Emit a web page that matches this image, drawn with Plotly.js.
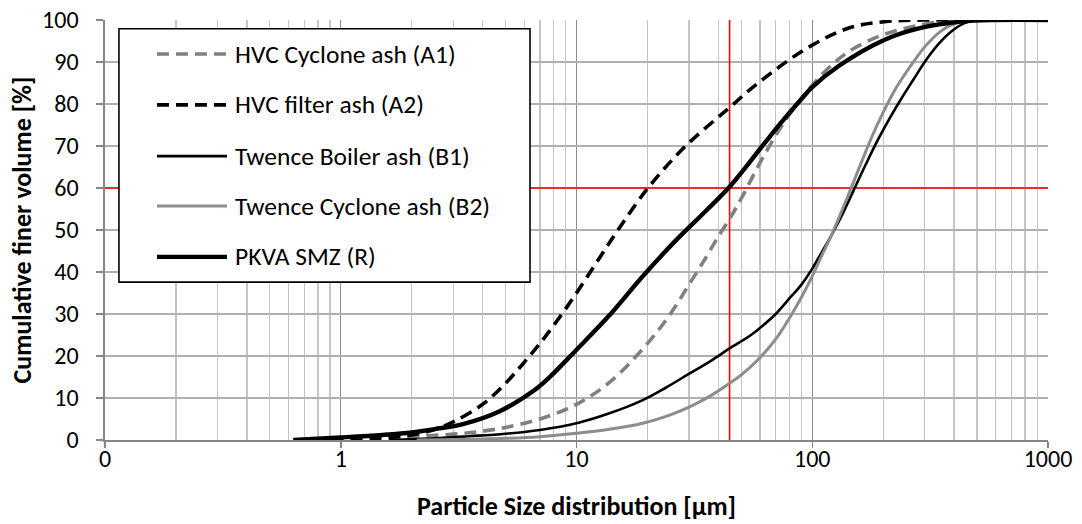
<!DOCTYPE html>
<html>
<head>
<meta charset="utf-8">
<script src="https://cdn.plot.ly/plotly-3.0.1.min.js"></script>
<style>
html,body{margin:0;padding:0;background:#ffffff;}
#chart{width:1082px;height:524px;}
</style>
</head>
<body>
<div id="chart"></div>
<script>
// ---- data ----
const seriesNames = [
  "HVC Cyclone ash (A1)",
  "HVC filter ash (A2)",
  "Twence Boiler ash (B1)",
  "Twence Cyclone ash (B2)",
  "PKVA SMZ (R)"
];

const a1Size  = [0.63, 1, 1.5, 2, 3, 4, 5, 7, 10, 14, 20, 25, 30, 35, 40, 45, 50, 60, 70, 80, 100, 125, 150, 200, 300, 430, 1000];
const a1Finer = [0, 0.2, 0.5, 0.8, 1.4, 2.1, 3.0, 5.0, 8.5, 14, 23, 30, 37, 43, 48.5, 53, 57.5, 66, 72.5, 77.5, 84.5, 90, 93.2, 96.5, 99, 100, 100];

const a2Size  = [0.63, 1, 1.5, 2, 2.5, 3, 4, 5, 6, 7, 8.3, 10, 12.4, 15.2, 20.3, 28.8, 43.4, 60.5, 97, 145, 203, 300, 1000];
const a2Finer = [0, 0.2, 0.5, 1.2, 2.5, 4.3, 8.5, 13.5, 18.5, 23, 28.5, 35, 43, 50.5, 60.3, 69.8, 78.6, 85.5, 93.6, 98.2, 99.6, 100, 100];

const b1Size  = [1.6, 2.5, 3.5, 5, 7, 10, 13.7, 19.1, 24, 29.7, 37, 44.6, 55, 62.5, 70, 80, 90, 100, 110, 120, 135, 150, 170, 190, 215, 240, 270, 300, 340, 390, 440, 500, 1000];
const b1Finer = [0, 0.4, 0.9, 1.5, 2.4, 4, 6.3, 9.5, 12.5, 15.6, 18.8, 21.8, 25, 27.5, 30, 33.7, 37, 40.8, 44.8, 48.5, 54, 59.5, 66, 71.5, 77, 81.5, 86, 90, 94, 97.3, 99.2, 100, 100];

const b2Size  = [2.1, 3, 5, 7, 10, 14, 19.1, 25, 29.7, 37, 44.6, 50, 60, 70, 80, 90, 100, 110, 120, 130, 145, 160, 180, 200, 225, 250, 275, 300, 350, 412, 480, 1000];
const b2Finer = [0, 0.1, 0.4, 0.8, 1.6, 2.6, 4, 6.0, 7.7, 10.5, 13.5, 15.5, 19.6, 24, 29, 34, 39, 44, 48.5, 53, 59.5, 65.5, 72.5, 78, 83.5, 87.5, 90.8, 93.6, 97.3, 99.4, 100, 100];

const rSize   = [0.63, 1, 1.5, 2, 2.5, 3.3, 4.7, 6.6, 7.7, 10, 13.7, 19.1, 26.9, 35, 44.6, 62.4, 73.6, 91, 100, 129, 203, 283, 426, 600, 1000];
const rFiner  = [0, 0.6, 1.2, 1.8, 2.6, 3.8, 6.8, 11.8, 15, 21.5, 29.5, 39, 48, 54.3, 60.3, 70.5, 75.5, 81.5, 84, 89, 95.3, 98, 99.6, 100, 100];

// reference lines (red): d60 of PKVA SMZ
const d60Size  = 44.6;
const d60Finer = 60;

const xTickVals  = [0.1, 1, 10, 100, 1000];
const xTickText  = ["0", "1", "10", "100", "1000"];
const xTitle = "Particle Size distribution [\u00b5m]";
const yTitle = "Cumulative finer volume [%]";

// ---- styles ----
const FONT = "Carlito, Calibri, Lato, 'Open Sans', sans-serif";
const styles = [
  {color: "#808080", width: 3.6, dash: "12px,7px"},
  {color: "#000000", width: 3.6, dash: "12px,7px"},
  {color: "#000000", width: 2.6, dash: "solid"},
  {color: "#8c8c8c", width: 3.0, dash: "solid"},
  {color: "#000000", width: 4.4, dash: "solid"}
];
const xs = [a1Size, a2Size, b1Size, b2Size, rSize];
const ys = [a1Finer, a2Finer, b1Finer, b2Finer, rFiner];

const traces = [];
// red reference lines first (beneath the curves)
traces.push({x: [d60Size, d60Size], y: [0, 100], mode: "lines", type: "scatter",
  line: {color: "#ff0000", width: 1.6}, showlegend: false, hoverinfo: "skip"});
traces.push({x: [xTickVals[0], xTickVals[xTickVals.length - 1]], y: [d60Finer, d60Finer], mode: "lines", type: "scatter",
  line: {color: "#ff0000", width: 1.6}, showlegend: false, hoverinfo: "skip"});

for (let i = 0; i < seriesNames.length; i++) {
  traces.push({
    x: xs[i], y: ys[i], name: seriesNames[i], type: "scatter", mode: "lines",
    line: {color: styles[i].color, width: styles[i].width, dash: styles[i].dash, shape: "spline", smoothing: 1},
    showlegend: false
  });
}

// minor gridline positions (2..9 in each decade)
const minorVals = [];
for (let d = -1; d < 3; d++) {
  for (let k = 2; k <= 9; k++) minorVals.push(k * Math.pow(10, d));
}

// custom legend box (paper coords)
const L = {x0: 0.0148, x1: 0.4507, y0: 0.376, y1: 0.979};
const rowsY = [0.919, 0.798, 0.676, 0.557, 0.436];
const shapes = [{
  type: "rect", xref: "paper", yref: "paper", layer: "above",
  x0: L.x0, x1: L.x1, y0: L.y0, y1: L.y1,
  fillcolor: "#ffffff", line: {color: "#000000", width: 1.6}
}];
const annotations = [];
for (let i = 0; i < seriesNames.length; i++) {
  shapes.push({
    type: "line", xref: "paper", yref: "paper", layer: "above",
    x0: 0.0551, x1: 0.1294, y0: rowsY[i], y1: rowsY[i],
    line: {color: styles[i].color, width: styles[i].width, dash: styles[i].dash}
  });
  annotations.push({
    xref: "paper", yref: "paper", x: 0.1357, y: rowsY[i],
    xanchor: "left", yanchor: "middle", showarrow: false,
    text: seriesNames[i], font: {family: FONT, size: 25.5, color: "#000000"}
  });
}

const layout = {
  width: 1082, height: 524,
  margin: {l: 105, r: 34, t: 20, b: 84, pad: 0},
  paper_bgcolor: "#ffffff", plot_bgcolor: "#ffffff",
  font: {family: FONT, size: 22, color: "#000000"},
  showlegend: false,
  xaxis: {
    type: "log", range: [-1, 3],
    tickmode: "array", tickvals: xTickVals, ticktext: xTickText,
    ticks: "outside", ticklen: 6, tickcolor: "#868686", tickwidth: 1.5,
    ticklabelstandoff: -9,
    showgrid: true, gridcolor: "#8c8c8c", gridwidth: 1.4,
    minor: {tickmode: "array", tickvals: minorVals, showgrid: true, gridcolor: "#c4c4c4", gridwidth: 1.4, ticks: ""},
    showline: true, linecolor: "#868686", linewidth: 1.6,
    zeroline: false,
    tickfont: {family: FONT, size: 24, color: "#000000"},
    title: {text: xTitle, font: {family: FONT, size: 26, color: "#000000", weight: "bold"}, standoff: 24}
  },
  yaxis: {
    range: [0, 100], dtick: 10, tick0: 0,
    ticks: "outside", ticklen: 7, tickcolor: "#868686", tickwidth: 1.5,
    ticklabelstandoff: 13,
    showgrid: true, gridcolor: "#b0b0b0", gridwidth: 1.4,
    showline: true, linecolor: "#868686", linewidth: 1.6,
    zeroline: false,
    tickfont: {family: FONT, size: 24, color: "#000000"},
    title: {text: yTitle, font: {family: FONT, size: 26, color: "#000000", weight: "bold"}, standoff: 3}
  },
  shapes: shapes,
  annotations: annotations
};

Plotly.newPlot("chart", traces, layout, {displayModeBar: false, staticPlot: true});
</script>
</body>
</html>
